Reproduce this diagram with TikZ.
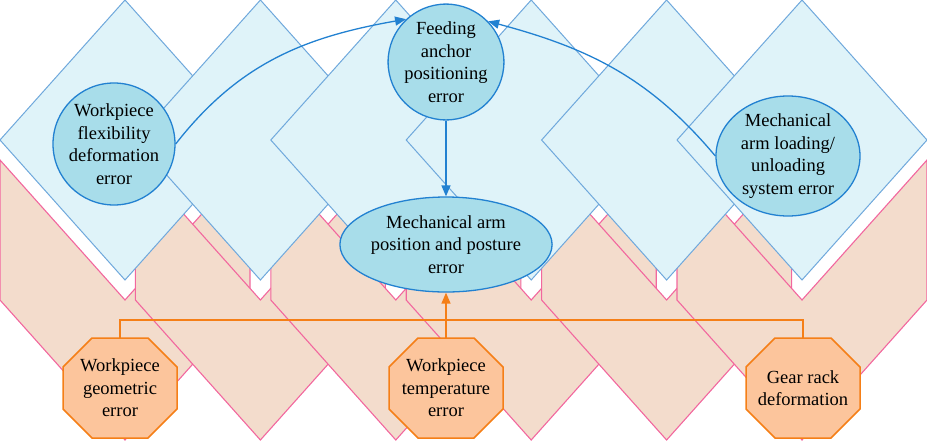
\documentclass[tikz,border=0pt]{standalone}
\usepackage{fontspec}
\setmainfont{Liberation Serif}
\usetikzlibrary{shapes.geometric,arrows.meta}
\definecolor{dfill}{HTML}{DFF3F9}
\definecolor{dedge}{HTML}{6FA8DC}
\definecolor{pfill}{HTML}{F3DCCC}
\definecolor{pedge}{HTML}{F2679E}
\definecolor{cfill}{HTML}{A8DDEA}
\definecolor{cedge}{HTML}{2281D1}
\definecolor{ofill}{HTML}{FCC59C}
\definecolor{oedge}{HTML}{F57F17}
\begin{document}
\begin{tikzpicture}[x=1pt,y=-1pt,
  diam/.style={draw=dedge,fill=dfill,line width=1pt},
  chev/.style={draw=pedge,fill=pfill,line width=1.1pt},
  txt/.style={font=\fontsize{18.5}{22.6}\selectfont,align=center,inner sep=0pt},
  circ/.style={txt,circle,draw=cedge,fill=cfill,line width=1.3pt},
  ell/.style={txt,ellipse,draw=cedge,fill=cfill,line width=1.3pt},
  octbox/.style={txt,rectangle,draw=none,minimum width=114pt,minimum height=100pt},
  octline/.style={draw=oedge,fill=ofill,line width=1.5pt},
  bline/.style={draw=cedge,line width=1.3pt,-{Triangle[length=11pt,width=9pt]}},
  oline/.style={draw=oedge,line width=1.5pt},
  oarrow/.style={oline,-{Triangle[length=11pt,width=9pt]}}]
\useasboundingbox (0,0) rectangle (927,440);
\begin{scope}
\clip (0,0) rectangle (927,440);
% pink chevrons
\foreach \x in {125,260.4,395.8,531.2,666.6,802}{
  \path[chev] ({\x-125},160) -- (\x,300) -- ({\x+125},160) -- ({\x+125},300)
     -- (\x,440) -- ({\x-125},300) -- cycle;
}
% blue diamonds
\foreach \x in {125,260.4,395.8,531.2,666.6,802}{
  \path[diam] (\x,0) -- ({\x+125},140) -- (\x,280) -- ({\x-125},140) -- cycle;
}
% octagon outlines
\foreach \cx in {120,446,803}{
  \path[octline] ({\cx-28},338) -- ({\cx+28},338) -- ({\cx+57},367) -- ({\cx+57},409)
    -- ({\cx+28},438) -- ({\cx-28},438) -- ({\cx-57},409) -- ({\cx-57},367) -- cycle;
}
\end{scope}
% nodes
\node[circ,minimum size=122pt] (flex) at (114,144) {Workpiece\\flexibility\\deformation\\error};
\node[circ,minimum size=114pt] (feed) at (446,62) {Feeding\\anchor\\positioning\\error};
\node[ell,minimum width=144pt,minimum height=120pt] (load) at (788,156) {Mechanical\\arm loading/\\unloading\\system error};
\node[ell,minimum width=194pt,minimum height=95pt] (post) at (446,244.5) {Mechanical arm\\position and posture\\error};
\node[octbox] (geo) at (120,388) {Workpiece\\geometric\\error};
\node[octbox] (temp) at (446,388) {Workpiece\\temperature\\error};
\node[octbox] (gear) at (803,388) {Gear rack\\deformation};
% connectors
\draw[bline] (flex.east) to[out=52,in=190] (feed.133);
\draw[bline] (load.west) to[out=130,in=-15] (feed.44);
\draw[bline] (feed.south) -- (post.north);
\coordinate (j) at (446,320);
\draw[oline] (geo.north) |- (j);
\draw[oline] (gear.north) |- (j);
\draw[oarrow] (temp.north) -- (post.south);
\end{tikzpicture}
\end{document}
